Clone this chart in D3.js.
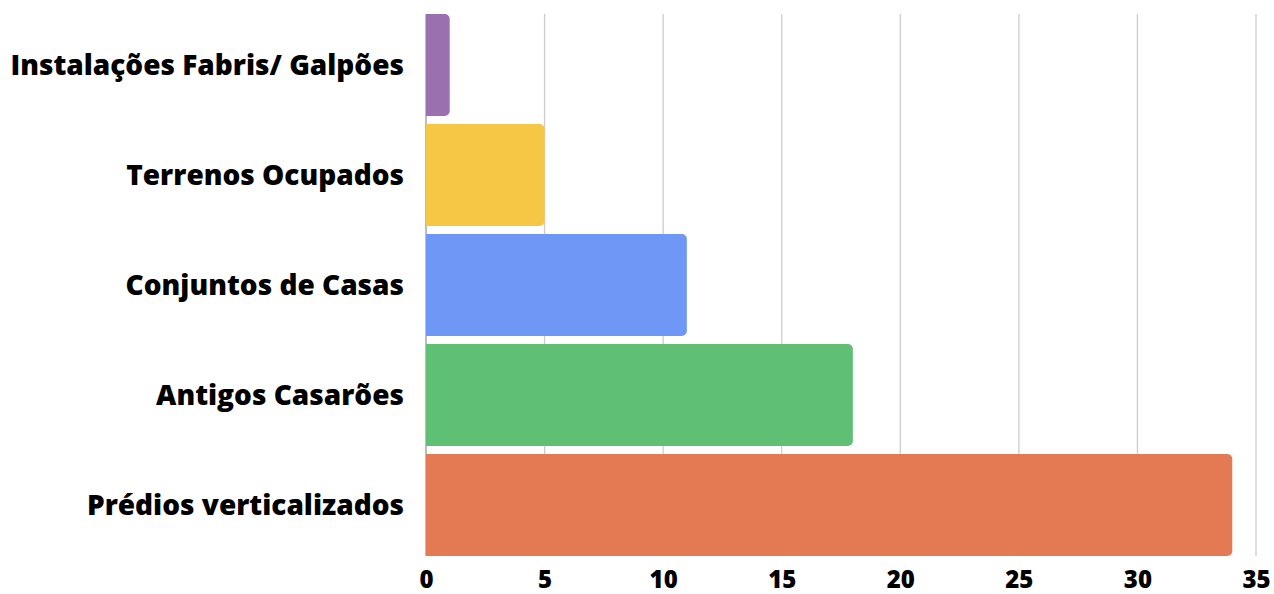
<!DOCTYPE html>
<html>
<head>
<meta charset="utf-8">
<script src="https://cdn.jsdelivr.net/npm/d3@7"></script>
<style>
  body { margin: 0; background: #fff; }
  text { font-family: "Open Sans", "Noto Sans", sans-serif; font-weight: 800; }
</style>
</head>
<body>
<script>
var categories = ["Instalações Fabris/ Galpões", "Terrenos Ocupados", "Conjuntos de Casas", "Antigos Casarões", "Prédios verticalizados"];
var values = [1, 5, 11, 18, 34];
var colors = ["#9b70ae", "#f6c745", "#6f98f6", "#5ebf75", "#e37a53"];
var ticks = [0, 5, 10, 15, 20, 25, 30, 35];

var width = 1274, height = 594;
var svg = d3.select("body").append("svg").attr("width", width).attr("height", height);

var x = d3.scaleLinear().domain([0, 35]).range([426, 1256]);
var y = d3.scaleBand().domain(categories).range([10, 560]).paddingInner(0.0727).paddingOuter(0.0364);

// grid
svg.append("g").selectAll("line").data(ticks).enter().append("line")
  .attr("x1", function (d) { return x(d); })
  .attr("x2", function (d) { return x(d); })
  .attr("y1", 14).attr("y2", 556)
  .attr("stroke", function (d) { return d === 0 ? "#999" : "#cccccc"; })
  .attr("stroke-width", 1.3);

// bars, rounded on the right only
var r = 5;
function barPath(d, i) {
  var x0 = x(0), x1 = x(d), y0 = y(categories[i]), h = y.bandwidth();
  var rr = Math.min(r, (x1 - x0) / 2);
  return "M" + x0 + "," + y0 + "H" + (x1 - rr) +
    "A" + rr + "," + rr + " 0 0 1 " + x1 + "," + (y0 + rr) +
    "V" + (y0 + h - rr) +
    "A" + rr + "," + rr + " 0 0 1 " + (x1 - rr) + "," + (y0 + h) +
    "H" + x0 + "Z";
}
svg.append("g").selectAll("path").data(values).enter().append("path")
  .attr("d", barPath)
  .attr("fill", function (d, i) { return colors[i]; });

// category labels
svg.append("g").selectAll("text").data(categories).enter().append("text")
  .attr("x", 404)
  .attr("y", function (d) { return y(d) + y.bandwidth() / 2; })
  .attr("dy", "0.35em")
  .attr("text-anchor", "end")
  .attr("font-size", 28)
  .attr("fill", "#000")
  .text(function (d) { return d; });

// x axis labels
var axis = d3.axisBottom(x).tickValues(ticks).tickSize(0).tickPadding(0);
var ax = svg.append("g").attr("transform", "translate(0,580)").call(axis);
ax.select(".domain").remove();
ax.selectAll("text")
  .attr("dy", "0.35em")
  .attr("font-size", 24)
  .attr("fill", "#000")
  .style("font-family", "'Open Sans', 'Noto Sans', sans-serif")
  .style("font-weight", 800);
</script>
</body>
</html>
